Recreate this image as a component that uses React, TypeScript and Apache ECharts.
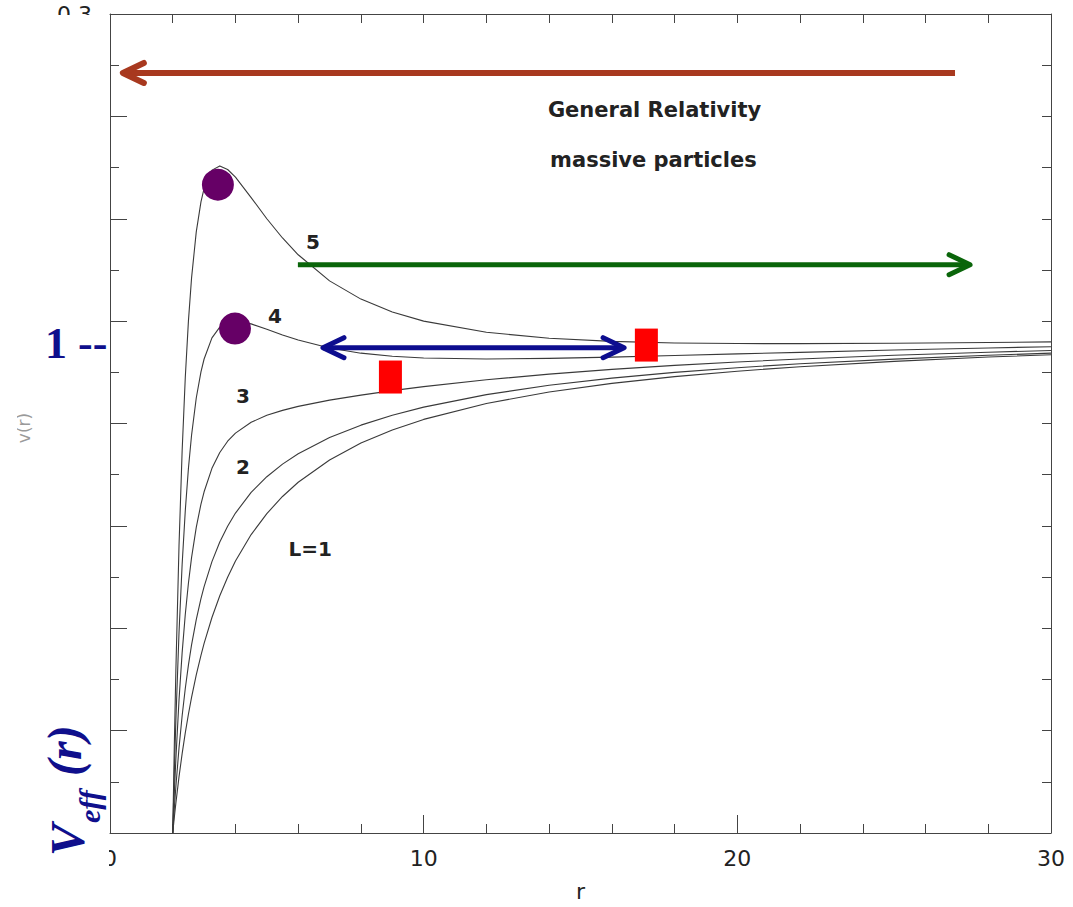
import React, { useEffect, useRef } from "react";
import * as echarts from "echarts";

// radial coordinate samples
const R = [2, 2.05, 2.1, 2.2, 2.3, 2.4, 2.5, 2.6, 2.75, 2.9, 3, 3.25, 3.5, 3.75, 4, 4.5, 5, 5.5, 6, 7, 8, 9, 10, 12, 14, 16, 18, 20, 22, 25, 28, 30];

// effective potential, one list per angular momentum
const V_L1 = [-0.5, -0.4849, -0.4708, -0.4452, -0.4225, -0.4022, -0.384, -0.3676, -0.3456, -0.3264, -0.3148, -0.2895, -0.2682, -0.2501, -0.2344, -0.2085, -0.188, -0.1713, -0.1574, -0.1356, -0.1191, -0.1063, -0.096, -0.0804, -0.0693, -0.0608, -0.0542, -0.0489, -0.0445, -0.0393, -0.0351, -0.0328];
const V_L2 = [-0.5, -0.4762, -0.4546, -0.417, -0.3855, -0.3588, -0.336, -0.3163, -0.2915, -0.271, -0.2593, -0.2349, -0.2157, -0.2003, -0.1875, -0.1673, -0.152, -0.1397, -0.1296, -0.1137, -0.1016, -0.0919, -0.084, -0.0718, -0.0627, -0.0557, -0.0501, -0.0455, -0.0417, -0.0371, -0.0334, -0.0313];
const V_L3 = [-0.5, -0.4617, -0.4276, -0.37, -0.3238, -0.2865, -0.256, -0.231, -0.2014, -0.1787, -0.1667, -0.1438, -0.1283, -0.1173, -0.1094, -0.0988, -0.092, -0.0872, -0.0833, -0.0772, -0.0723, -0.0679, -0.064, -0.0573, -0.0518, -0.0471, -0.0432, -0.0399, -0.037, -0.0334, -0.0304, -0.0287];
const V_L4 = [-0.5, -0.4414, -0.3898, -0.3043, -0.2375, -0.1852, -0.144, -0.1115, -0.0751, -0.0496, -0.037, -0.0164, -0.0059, -0.0012, 0, -0.0027, -0.008, -0.0135, -0.0185, -0.0262, -0.0313, -0.0343, -0.036, -0.037, -0.0364, -0.0352, -0.0336, -0.032, -0.0305, -0.0282, -0.0262, -0.025];
const V_L5 = [-0.5, -0.4152, -0.3412, -0.2197, -0.1266, -0.055, 0, 0.0421, 0.0872, 0.1165, 0.1297, 0.1475, 0.1516, 0.1481, 0.1406, 0.1207, 0.1, 0.0812, 0.0648, 0.0393, 0.0215, 0.0089, 0, -0.0109, -0.0167, -0.0198, -0.0213, -0.0219, -0.022, -0.0216, -0.0209, -0.0203];

const CURVES = [V_L1, V_L2, V_L3, V_L4, V_L5];

// axis
const X_TICKS = [0, 10, 20, 30];
const Y_MIN = -0.5;
const Y_MAX = 0.3;
const Y_SHOWN_LABEL = 0.3;

// annotation markers (data units)
const PEAK_MARKERS = [[3.44, 0.1332], [3.985, -0.0073]];
const RED_MARKERS = [[8.94, -0.0546], [17.1, -0.0234]];

// arrows (data units)
const ARROW_FROM = [[26.94, 0.2424], [5.99, 0.0551], [6.79, -0.0259]];
const ARROW_TO = [[0.41, 0.2424], [27.42, 0.0551], [16.39, -0.0259]];
const ARROW_COLORS = ["#a8391f", "#0a650a", "#0d0d8f"];
const ARROW_BOTH = [false, false, true];

// curve labels (data units)
const CURVE_LABEL_TEXT = ["5", "4", "3", "2", "L=1"];
const CURVE_LABEL_POS = [[6.47, 0.0776], [5.26, 0.0054], [4.24, -0.0727], [4.24, -0.1429], [6.38, -0.2229]];

const TITLE_LINES = ["General Relativity", "massive particles"];
const TITLE_POS = [[13.96, 0.2063], [14.03, 0.1576]];

const NAVY = "#0f0f8c";

export default function App() {
  const ref = useRef<HTMLDivElement>(null);

  useEffect(() => {
    if (!ref.current) return;
    const chart = echarts.init(ref.current, null, { renderer: "svg" });
    const axisLine = { show: true, onZero: false, lineStyle: { color: "#444", width: 1 } };
    const sans = "DejaVu Sans";

    chart.setOption({
      animation: false,
      backgroundColor: "#ffffff",
      grid: { left: 110, top: 14, right: 22, bottom: 73 },
      xAxis: [
        {
          type: "value",
          min: 0,
          max: 30,
          interval: 10,
          position: "bottom",
          axisLine,
          axisTick: { show: true, inside: true, length: 18, lineStyle: { color: "#444" } },
          minorTick: { show: true, splitNumber: 5, length: 9, lineStyle: { color: "#444" } },
          splitLine: { show: false },
          axisLabel: {
            show: true,
            fontSize: 22,
            fontFamily: sans,
            color: "#222",
            margin: 14,
            formatter: (v: number) => (X_TICKS.includes(v) ? String(v) : ""),
          },
          name: "r",
          nameLocation: "middle",
          nameGap: 47,
          nameTextStyle: { fontSize: 22, fontFamily: sans, color: "#222" },
        },
        {
          type: "value",
          min: 0,
          max: 30,
          interval: 10,
          position: "top",
          axisLine,
          axisTick: { show: true, inside: true, length: 9, lineStyle: { color: "#444" } },
          minorTick: { show: true, splitNumber: 5, length: 9, lineStyle: { color: "#444" } },
          splitLine: { show: false },
          axisLabel: { show: false },
        },
      ],
      yAxis: [
        {
          type: "value",
          min: Y_MIN,
          max: Y_MAX,
          interval: 0.1,
          position: "left",
          axisLine,
          axisTick: { show: true, inside: true, length: 17, lineStyle: { color: "#444" } },
          minorTick: { show: true, splitNumber: 2, length: 9, lineStyle: { color: "#444" } },
          splitLine: { show: false },
          axisLabel: {
            show: true,
            fontSize: 22,
            fontFamily: sans,
            color: "#222",
            margin: 18,
            formatter: (v: number) => (Math.abs(v - Y_SHOWN_LABEL) < 1e-6 ? v.toFixed(1) : ""),
          },
        },
        {
          type: "value",
          min: Y_MIN,
          max: Y_MAX,
          interval: 0.1,
          position: "right",
          axisLine,
          axisTick: { show: true, inside: true, length: 9, lineStyle: { color: "#444" } },
          minorTick: { show: true, splitNumber: 2, length: 9, lineStyle: { color: "#444" } },
          splitLine: { show: false },
          axisLabel: { show: false },
        },
      ],
      series: [
        ...CURVES.map((vals) => ({
          type: "line",
          xAxisIndex: 0,
          yAxisIndex: 0,
          data: R.map((r, i) => [r, vals[i]]),
          showSymbol: false,
          smooth: false,
          silent: true,
          lineStyle: { color: "#3a3a3a", width: 1.1, join: "round" },
          z: 2,
        })),
        {
          type: "scatter",
          data: PEAK_MARKERS,
          symbol: "circle",
          symbolSize: 32,
          itemStyle: { color: "#660066", opacity: 1 },
          silent: true,
          z: 5,
        },
        {
          type: "scatter",
          data: RED_MARKERS,
          symbol: "rect",
          symbolSize: [23, 33],
          itemStyle: { color: "#ff0000", opacity: 1 },
          silent: true,
          z: 5,
        },
      ],
    });

    const px = (p: number[]) => chart.convertToPixel({ gridIndex: 0 }, p) as number[];
    const g: any[] = [];

    // white cover over the left labels (as in the reference)
    g.push({ type: "rect", shape: { x: 0, y: 15, width: 109, height: 892 }, style: { fill: "#ffffff" }, z: 50 });

    // faint original axis name
    g.push({
      type: "text",
      x: 24,
      y: 428,
      rotation: Math.PI / 2,
      style: { text: "v(r)", fontSize: 17, fontFamily: sans, fill: "#9a9a9a", align: "center", verticalAlign: "middle" },
      z: 55,
    });
    g.push({ type: "rect", shape: { x: 0, y: 395, width: 17, height: 70 }, style: { fill: "#ffffff" }, z: 56 });

    // arrows
    ARROW_FROM.forEach((f, i) => {
      const a = px(f);
      const b = px(ARROW_TO[i]);
      const color = ARROW_COLORS[i];
      const w = i === 0 ? 6 : 5;
      const dx = b[0] - a[0];
      const dy = b[1] - a[1];
      const len = Math.hypot(dx, dy);
      const ux = dx / len;
      const uy = dy / len;
      const nx = -uy;
      const ny = ux;
      const head = (t: number[], sx: number, sy: number) => ({
        type: "polyline",
        shape: {
          points: [
            [t[0] - sx * 21 + nx * 10, t[1] - sy * 21 + ny * 10],
            [t[0], t[1]],
            [t[0] - sx * 21 - nx * 10, t[1] - sy * 21 - ny * 10],
          ],
        },
        style: { stroke: color, lineWidth: w, fill: null, lineCap: "round", lineJoin: "round" },
        z: 100,
      });
      g.push({
        type: "line",
        shape: { x1: a[0], y1: a[1], x2: b[0] - ux * 2, y2: b[1] - uy * 2 },
        style: { stroke: color, lineWidth: w, lineCap: "butt" },
        z: 100,
      });
      g.push(head(b, ux, uy));
      if (ARROW_BOTH[i]) g.push(head(a, -ux, -uy));
    });

    // curve labels
    CURVE_LABEL_TEXT.forEach((t, i) => {
      const p = px(CURVE_LABEL_POS[i]);
      g.push({
        type: "text",
        x: p[0],
        y: p[1],
        style: { text: t, fontSize: 20, fontFamily: sans, fontWeight: "bold", fill: "#222", align: "center", verticalAlign: "middle" },
        z: 100,
      });
    });

    // title lines
    TITLE_LINES.forEach((t, i) => {
      const p = px(TITLE_POS[i]);
      g.push({
        type: "text",
        x: p[0],
        y: p[1],
        style: { text: t, fontSize: 21, fontFamily: sans, fontWeight: "bold", fill: "#222", align: "left", verticalAlign: "middle" },
        z: 100,
      });
    });

    // "1 --" marker
    g.push({
      type: "text",
      x: 45,
      y: 343,
      style: { text: "1 --", fontSize: 44, fontFamily: "Liberation Serif", fontWeight: "bold", fill: NAVY, align: "left", verticalAlign: "middle" },
      z: 100,
    });

    // V_eff (r) rotated label
    const serifStyle = { fontFamily: "Liberation Serif", fontWeight: "bold", fontStyle: "italic", fill: NAVY, align: "left", verticalAlign: "middle" };
    g.push({
      type: "group",
      x: 83,
      y: 856,
      rotation: Math.PI / 2,
      z: 100,
      children: [
        { type: "text", x: 0, y: -16, style: { ...serifStyle, text: "V", fontSize: 48 }, z: 100 },
        { type: "text", x: 33, y: 6, style: { ...serifStyle, text: "eff", fontSize: 30 }, z: 100 },
        { type: "text", x: 80, y: -19, style: { ...serifStyle, text: "(r)", fontSize: 48 }, z: 100 },
      ],
    });

    chart.setOption({ graphic: g });

    return () => chart.dispose();
  }, []);

  return <div ref={ref} style={{ position: "absolute", left: 0, top: 0, width: 1073, height: 907 }} />;
}
